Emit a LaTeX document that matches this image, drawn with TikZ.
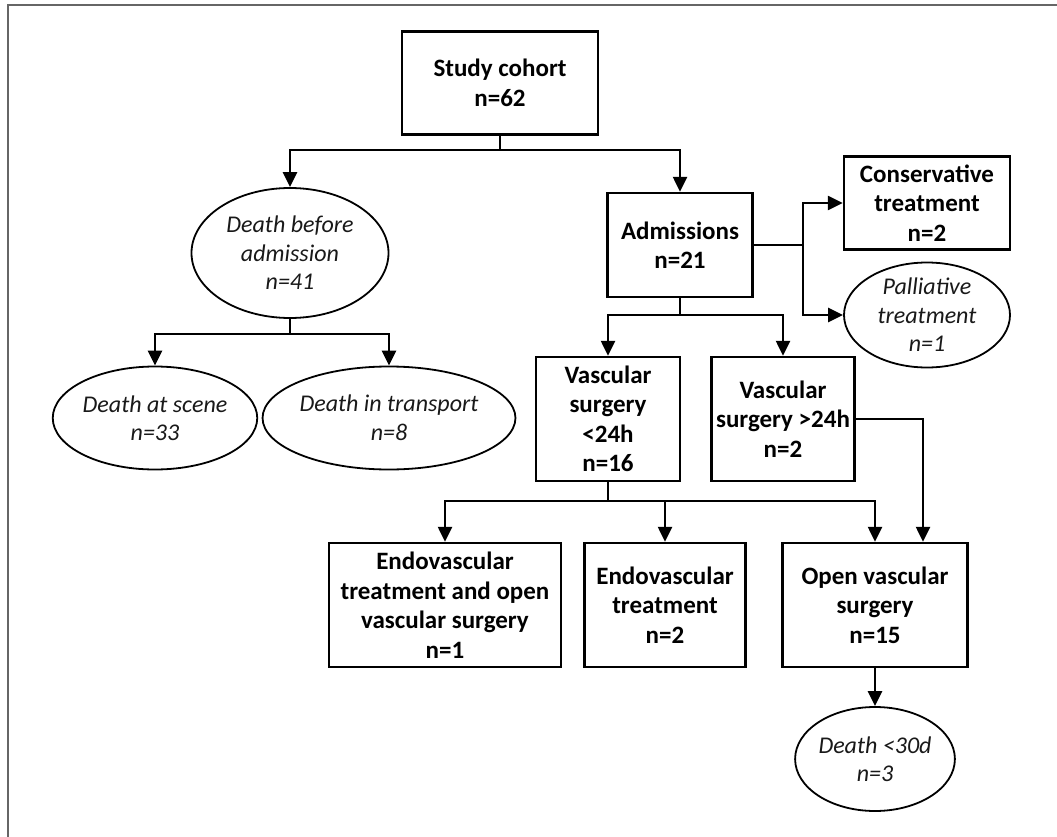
\documentclass[tikz,border=0pt]{standalone}
\usepackage{fontspec}
\setmainfont{Carlito}
\usetikzlibrary{arrows.meta,shapes.geometric}
\begin{document}
\begin{tikzpicture}[x=1pt,y=-1pt,
 box/.style={draw, line width=2.4pt, rectangle, align=center, font=\bfseries\fontsize{25}{29.5}\selectfont, inner sep=0pt},
 oval/.style={draw, line width=1.8pt, ellipse, align=center, font=\itshape\fontsize{24}{28.5}\selectfont, inner sep=0pt, text=black!90},
 conn/.style={line width=2.4pt, -{Triangle[length=15pt,width=14pt]}},
 plain/.style={line width=2.4pt}]
\useasboundingbox (0,0) rectangle (1057,837);
\draw[line width=2.2pt, color=black!60] (1057,5) -- (8,5) -- (8,837);

\node[box, minimum width=196pt, minimum height=103pt] (cohort) at (500,83) {Study cohort\\n=62};
\node[oval, minimum width=197pt, minimum height=130pt] (dba) at (290,253) {Death before\\admission\\n=41};
\node[box, minimum width=145pt, minimum height=104pt] (adm) at (680,245) {Admissions\\n=21};
\node[box, minimum width=166pt, minimum height=93pt] (cons) at (927,203) {Conservative\\treatment\\n=2};
\node[oval, minimum width=166pt, minimum height=105pt] (pall) at (927,315) {Palliative\\treatment\\n=1};
\node[oval, minimum width=191pt, minimum height=103pt] (scene) at (155,418) {Death at scene\\n=33};
\node[oval, minimum width=222pt, minimum height=103pt] (transp) at (389,418) {Death in transport\\n=8};
\node[box, minimum width=144pt, minimum height=124pt] (vlt) at (608,419) {Vascular\\surgery\\<24h\\n=16};
\node[box, minimum width=143pt, minimum height=124pt] (vgt) at (783,419) {Vascular\\surgery >24h\\n=2};
\node[box, minimum width=232pt, minimum height=124pt] (eo) at (445,605) {Endovascular\\treatment and open\\vascular surgery\\n=1};
\node[box, minimum width=161pt, minimum height=124pt] (endo) at (665,605) {Endovascular\\treatment\\n=2};
\node[box, minimum width=185pt, minimum height=124pt] (open) at (875,605) {Open vascular\\surgery\\n=15};
\node[oval, minimum width=145pt, minimum height=104pt] (d30) at (875,759) {Death <30d\\n=3};

\coordinate (j1) at (500,150);
\coordinate (j2) at (290,334);
\coordinate (j3) at (803,245);
\coordinate (j4) at (680,315);
\coordinate (j5) at (608,501);

\draw[plain] (cohort.south) -- (j1);
\draw[conn] (j1) -| (dba.north);
\draw[conn] (j1) -| (adm.north);
\draw[plain] (dba.south) -- (j2);
\draw[conn] (j2) -| (scene.north);
\draw[conn] (j2) -| (transp.north);
\draw[plain] (adm.east) -- (j3);
\draw[conn] (j3) |- (cons.west);
\draw[conn] (j3) |- (pall.west);
\draw[plain] (adm.south) -- (j4);
\draw[conn] (j4) -| (vlt.north);
\draw[conn] (j4) -| (vgt.north);
\draw[plain] (vlt.south) -- (j5);
\draw[conn] (j5) -| (eo.north);
\draw[conn] (j5) -| (endo.north);
\draw[conn] (j5) -| (open.north);
\draw[conn] (vgt.east) -| ([xshift=48pt]open.north);
\draw[conn] (open.south) -- (d30.north);
\end{tikzpicture}
\end{document}
